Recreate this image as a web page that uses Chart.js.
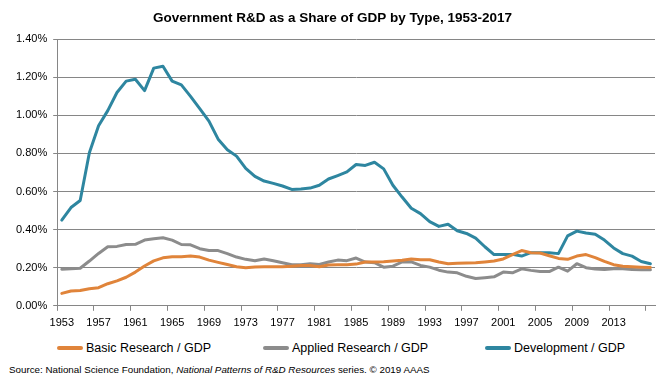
<!DOCTYPE html>
<html>
<head>
<meta charset="utf-8">
<script src="https://cdn.jsdelivr.net/npm/chart.js@4/dist/chart.umd.min.js"></script>
<style>
  html, body { margin: 0; padding: 0; background: #fff; }
  #wrap { position: relative; width: 672px; height: 384px; font-family: "Liberation Sans", Arial, sans-serif; }
  #chartBox { position: absolute; left: 0; top: 0; width: 672px; height: 336px; }
  #legend { position: absolute; left: 0; top: 341px; width: 672px; height: 18px; }
  .item { position: absolute; top: 0; display: flex; align-items: center; font-size: 12.5px; color: #000; white-space: nowrap; }
  .swatch { width: 26px; height: 4px; border-radius: 2px; margin-right: 3px; }
  #source { position: absolute; left: 9px; top: 364px; font-size: 9.8px; color: #000; white-space: nowrap; }
</style>
</head>
<body>
<div id="wrap">
  <div id="chartBox"><canvas id="chart"></canvas></div>
  <div id="legend"></div>
  <div id="source">Source: National Science Foundation, <i>National Patterns of R&amp;D Resources</i> series. © 2019 AAAS</div>
</div>
<script>
// Categories
const years = [
  1953, 1954, 1955, 1956, 1957, 1958, 1959, 1960, 1961, 1962, 1963, 1964, 1965,
  1966, 1967, 1968, 1969, 1970, 1971, 1972, 1973, 1974, 1975, 1976, 1977, 1978,
  1979, 1980, 1981, 1982, 1983, 1984, 1985, 1986, 1987, 1988, 1989, 1990, 1991,
  1992, 1993, 1994, 1995, 1996, 1997, 1998, 1999, 2000, 2001, 2002, 2003, 2004,
  2005, 2006, 2007, 2008, 2009, 2010, 2011, 2012, 2013, 2014, 2015, 2016, 2017
];

// Shown x labels
const xTickLabels = ['1953', '1957', '1961', '1965', '1969', '1973', '1977', '1981',
  '1985', '1989', '1993', '1997', '2001', '2005', '2009', '2013'];

// Series (percent of GDP)
const basicResearch = [
  0.065, 0.078, 0.080, 0.090, 0.095, 0.116, 0.131, 0.150, 0.177, 0.209, 0.236, 0.252, 0.258,
  0.258, 0.261, 0.256, 0.240, 0.228, 0.217, 0.205, 0.200, 0.204, 0.205, 0.205, 0.205, 0.208,
  0.212, 0.212, 0.205, 0.214, 0.216, 0.216, 0.219, 0.230, 0.230, 0.231, 0.235, 0.239, 0.246,
  0.242, 0.242, 0.230, 0.221, 0.224, 0.225, 0.226, 0.230, 0.235, 0.246, 0.269, 0.290, 0.279,
  0.277, 0.263, 0.249, 0.244, 0.261, 0.269, 0.253, 0.233, 0.216, 0.208, 0.205, 0.203, 0.201
];
const appliedResearch = [
  0.192, 0.195, 0.197, 0.235, 0.275, 0.310, 0.312, 0.322, 0.323, 0.345, 0.352, 0.357, 0.345,
  0.322, 0.320, 0.300, 0.290, 0.290, 0.274, 0.256, 0.244, 0.237, 0.246, 0.237, 0.226, 0.216,
  0.216, 0.221, 0.217, 0.230, 0.240, 0.237, 0.251, 0.230, 0.226, 0.203, 0.208, 0.230, 0.231,
  0.212, 0.203, 0.187, 0.177, 0.173, 0.155, 0.143, 0.147, 0.152, 0.177, 0.173, 0.194, 0.186,
  0.180, 0.180, 0.203, 0.182, 0.221, 0.200, 0.193, 0.191, 0.194, 0.194, 0.191, 0.189, 0.189
];
const development = [
  0.450, 0.516, 0.553, 0.804, 0.945, 1.025, 1.120, 1.180, 1.190, 1.130, 1.248, 1.258, 1.180,
  1.160, 1.100, 1.035, 0.970, 0.875, 0.820, 0.786, 0.722, 0.680, 0.655, 0.643, 0.629, 0.611,
  0.613, 0.618, 0.633, 0.666, 0.684, 0.703, 0.742, 0.737, 0.754, 0.719, 0.633, 0.571, 0.512,
  0.484, 0.442, 0.417, 0.428, 0.394, 0.380, 0.355, 0.310, 0.269, 0.269, 0.270, 0.261, 0.279,
  0.279, 0.279, 0.274, 0.367, 0.392, 0.382, 0.376, 0.345, 0.304, 0.274, 0.261, 0.233, 0.221
];

const seriesNames = ['Basic Research / GDP', 'Applied Research / GDP', 'Development / GDP'];
const seriesColors = ['#E0843A', '#8C8C8C', '#2E86A0'];
const seriesData = [basicResearch, appliedResearch, development];

const axisGray = '#868686';
const font = 'Liberation Sans';

const ctx = document.getElementById('chart');

new Chart(ctx, {
  type: 'line',
  data: {
    labels: years.map(String),
    datasets: seriesNames.map((name, i) => ({
      label: name,
      data: seriesData[i],
      borderColor: seriesColors[i],
      backgroundColor: seriesColors[i],
      borderWidth: 3,
      pointRadius: 0,
      tension: 0,
      borderJoinStyle: 'round',
      borderCapStyle: 'round',
    })),
  },
  options: {
    responsive: true,
    maintainAspectRatio: false,
    animation: false,
    events: [],
    layout: { padding: { left: 10, right: 17, top: 0, bottom: 0 } },
    scales: {
      x: {
        offset: true,
        grid: {
          offset: true,
          drawOnChartArea: false,
          tickLength: 5,
          tickColor: (c) => (c.index % 4 === 0 || c.index === years.length) ? axisGray : 'rgba(0,0,0,0)',
        },
        border: { color: axisGray, width: 1 },
        ticks: {
          autoSkip: false,
          maxRotation: 0,
          padding: 6,
          color: '#000',
          font: { family: font, size: 11 },
          callback: function (value) {
            const lab = this.getLabelForValue(value);
            return xTickLabels.includes(lab) ? lab : '';
          },
        },
      },
      y: {
        min: 0,
        max: 1.4,
        grid: { color: axisGray, tickLength: 4, tickColor: axisGray },
        border: { color: axisGray, width: 1 },
        ticks: {
          stepSize: 0.2,
          padding: 6,
          color: '#000',
          font: { family: font, size: 11 },
          callback: (v) => v.toFixed(2) + '%',
        },
      },
    },
    plugins: {
      legend: { display: false },
      tooltip: { enabled: false },
      title: {
        display: true,
        text: 'Government R&D as a Share of GDP by Type, 1953-2017',
        color: '#000',
        font: { family: font, size: 13.5, weight: 'bold' },
        padding: { top: 10, bottom: 13 },
      },
    },
  },
});

// HTML legend below the chart
const legendPos = [57, 263, 485];
const legend = document.getElementById('legend');
seriesNames.forEach((name, i) => {
  const item = document.createElement('div');
  item.className = 'item';
  item.style.left = legendPos[i] + 'px';
  const sw = document.createElement('span');
  sw.className = 'swatch';
  sw.style.background = seriesColors[i];
  const tx = document.createElement('span');
  tx.textContent = name;
  item.appendChild(sw);
  item.appendChild(tx);
  legend.appendChild(item);
});
</script>
</body>
</html>
